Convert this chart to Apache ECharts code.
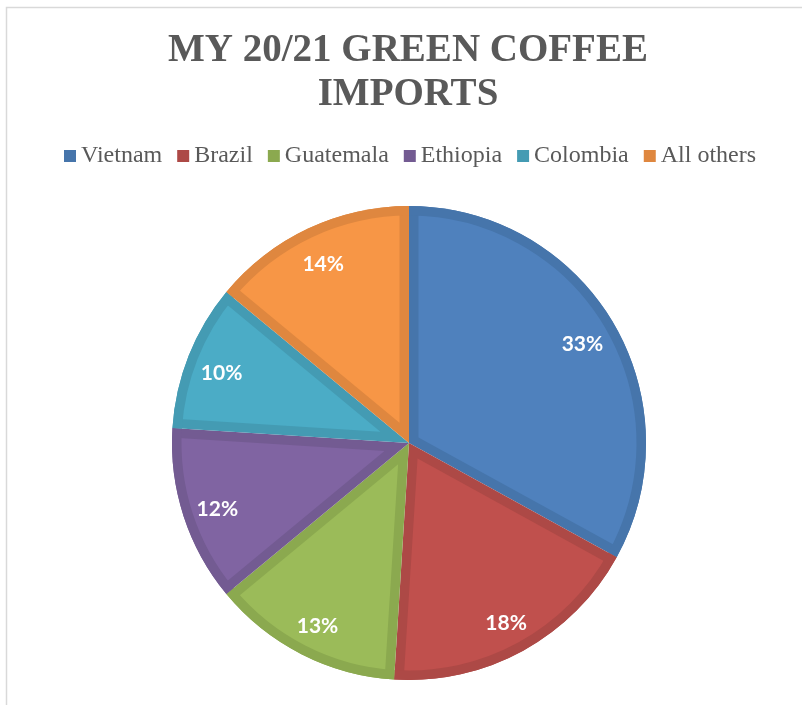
<!DOCTYPE html>
<html>
<head>
<meta charset="utf-8">
<title>MY 20/21 GREEN COFFEE IMPORTS</title>
<script src="https://cdn.jsdelivr.net/npm/echarts@6/dist/echarts.min.js"></script>
<style>
  html, body { margin: 0; padding: 0; background: #ffffff; }
  #chart { width: 802px; height: 705px; }
</style>
</head>
<body>
<div id="chart"></div>
<script>
// Share of green coffee imports by origin, in percent
const origins = ['Vietnam', 'Brazil', 'Guatemala', 'Ethiopia', 'Colombia', 'All others'];
const shares = [33, 18, 13, 12, 10, 14];

// Slice fills and their darker rims
const fillColors = ['#4F81BD', '#C0504D', '#9BBB59', '#8064A2', '#4BACC6', '#F79646'];
const rimColors = ['#4675AB', '#AD4946', '#8BA94F', '#735B92', '#449BB3', '#DF873F'];

const CX = 409, CY = 443, R = 237, RIM = 9.5;
const total = shares.reduce((a, b) => a + b, 0);

const base = {
  type: 'pie',
  center: [CX, CY],
  startAngle: 90,
  clockwise: true,
  silent: true,
  animation: false,
  avoidLabelOverlap: false,
  emphasis: { disabled: true },
  label: { show: false },
  labelLine: { show: false }
};

const series = [];

// 1) full disc in rim colours: becomes the inner bands along each slice's straight edges
series.push(Object.assign({}, base, {
  name: 'rim',
  z: 1,
  radius: R,
  data: origins.map((n, i) => ({ name: n, value: shares[i], itemStyle: { color: rimColors[i] } }))
}));

// 2) each slice's face: the same sector pushed out along its bisector so its
//    straight edges sit RIM px inside the slice borders
origins.forEach((n, i) => {
  const half = Math.PI * shares[i] / total;
  const push = RIM / Math.sin(Math.min(half, Math.PI / 2));
  series.push(Object.assign({}, base, {
    name: 'face-' + i,
    z: 2,
    radius: R - push - 1,
    selectedMode: 'multiple',
    selectedOffset: push,
    data: origins.map((m, j) => ({
      name: m,
      value: shares[j],
      selected: j === i,
      itemStyle: { color: j === i ? fillColors[i] : 'rgba(0,0,0,0)' }
    }))
  }));
});

// 3) outer rim ring in rim colours
series.push(Object.assign({}, base, {
  name: 'outer-rim',
  z: 3,
  radius: [R - RIM, R],
  data: origins.map((n, i) => ({ name: n, value: shares[i], itemStyle: { color: rimColors[i] } }))
}));

// 4) percentage labels near the outer end of each slice
series.push(Object.assign({}, base, {
  name: 'labels',
  z: 4,
  radius: [160, R],
  label: {
    show: true,
    position: 'inside',
    formatter: '{c}%',
    color: '#ffffff',
    fontFamily: 'Lato',
    fontWeight: 'bold',
    fontSize: 21,
    offset: [0, 4]
  },
  data: origins.map((n, i) => ({ name: n, value: shares[i], itemStyle: { color: 'rgba(0,0,0,0)' } }))
}));

const chart = echarts.init(document.getElementById('chart'), null, { renderer: 'canvas' });
chart.setOption({
  backgroundColor: '#ffffff',
  animation: false,
  graphic: [{
    type: 'rect',
    silent: true,
    shape: { x: 6.5, y: 7.5, width: 900, height: 800 },
    style: { fill: 'none', stroke: '#D9D9D9', lineWidth: 1.5 }
  }],
  title: {
    text: 'MY 20/21 GREEN COFFEE\nIMPORTS',
    left: 408,
    textAlign: 'center',
    top: 29,
    padding: 0,
    textStyle: {
      fontFamily: 'Liberation Serif',
      fontWeight: 'bold',
      fontSize: 39,
      lineHeight: 44,
      color: '#595959'
    }
  },
  legend: {
    data: origins,
    top: 144,
    left: 64,
    padding: 0,
    icon: 'rect',
    itemWidth: 12,
    itemHeight: 12,
    itemGap: 15,
    selectedMode: false,
    textStyle: {
      fontFamily: 'Liberation Serif',
      fontSize: 24,
      color: '#595959',
      padding: [0, 0, 0, 0]
    }
  },
  series: series
});
</script>
</body>
</html>
